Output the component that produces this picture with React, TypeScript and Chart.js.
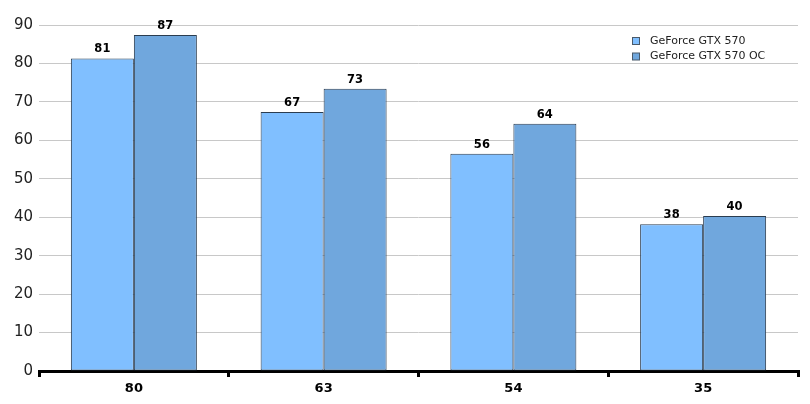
import React, { useEffect, useRef } from "react";
import { Chart, registerables } from "chart.js";

Chart.register(...registerables);

const categories = ["80", "63", "54", "35"];
const seriesNames = ["GeForce GTX 570", "GeForce GTX 570 OC"];
const gtx570 = [81.3, 67.4, 56.5, 38.2];
const gtx570oc = [87.4, 73.4, 64.3, 40.3];
const labels570 = ["81", "67", "56", "38"];
const labels570oc = ["87", "73", "64", "40"];
const yTicks = [0, 10, 20, 30, 40, 50, 60, 70, 80, 90];

const colors = ["#80BFFF", "#70A7DD"];

export default function App() {
  const ref = useRef<HTMLCanvasElement | null>(null);
  useEffect(() => {
    if (!ref.current) return;
    const valueLabels = [labels570, labels570oc];
    const labelPlugin = {
      id: "valueLabels",
      afterDatasetsDraw(chart: any) {
        const ctx = chart.ctx;
        ctx.save();
        ctx.font = "bold 11.5px 'DejaVu Sans'";
        ctx.fillStyle = "#000";
        ctx.textAlign = "center";
        ctx.textBaseline = "bottom";
        chart.data.datasets.forEach((ds: any, di: number) => {
          const meta = chart.getDatasetMeta(di);
          meta.data.forEach((el: any, i: number) => {
            ctx.fillText(valueLabels[di][i], el.x, el.y - 3.5);
          });
        });
        ctx.restore();
      },
    };
    const legendPlugin = {
      id: "customLegend",
      afterDraw(chart: any) {
        const ctx = chart.ctx;
        ctx.save();
        ctx.font = "11px 'DejaVu Sans'";
        ctx.textBaseline = "middle";
        ctx.textAlign = "left";
        seriesNames.forEach((name, i) => {
          const y = 41 + i * 15.5;
          ctx.fillStyle = colors[i];
          ctx.fillRect(632.5, y - 3.5, 7, 7);
          ctx.strokeStyle = "#4A5A6A";
          ctx.lineWidth = 1;
          ctx.strokeRect(632.5, y - 3.5, 7, 7);
          ctx.fillStyle = "#222";
          ctx.fillText(name, 650, y);
        });
        ctx.restore();
      },
    };
    const chart = new Chart(ref.current, {
      type: "bar",
      data: {
        labels: categories,
        datasets: [
          {
            label: seriesNames[0],
            data: gtx570,
            backgroundColor: colors[0],
            borderColor: "#2B3D50",
            borderWidth: 1,
            borderSkipped: false,
            categoryPercentage: 0.664,
            barPercentage: 1,
          },
          {
            label: seriesNames[1],
            data: gtx570oc,
            backgroundColor: colors[1],
            borderColor: "#2B3D50",
            borderWidth: 1,
            borderSkipped: false,
            categoryPercentage: 0.664,
            barPercentage: 1,
          },
        ],
      },
      options: {
        responsive: false,
        animation: false,
        layout: { padding: { top: 25, right: 12, left: 0, bottom: 0 } },
        plugins: {
          legend: { display: false },
          tooltip: { enabled: false },
        },
        scales: {
          x: {
            offset: true,
            grid: {
              offset: true,
              drawOnChartArea: false,
              drawTicks: true,
              tickLength: 6,
              lineWidth: 3,
              color: "#000",
            },
            border: { display: true, width: 3, color: "#000" },
            ticks: {
              font: { family: "'DejaVu Sans'", size: 13, weight: "bold" },
              color: "#000",
              padding: 4,
            },
            afterFit(scale: any) {
              scale.height = 33;
            },
          },
          y: {
            min: 0,
            max: 90,
            afterBuildTicks(scale: any) {
              scale.ticks = yTicks.map((v) => ({ value: v }));
            },
            grid: {
              color: "#C8C8C8",
              lineWidth: 1,
              drawTicks: false,
            },
            border: { display: false },
            ticks: {
              font: { family: "'DejaVu Sans'", size: 15 },
              color: "#222",
              padding: 6,
            },
            afterFit(scale: any) {
              scale.width = 39;
            },
          },
        },
      },
      plugins: [labelPlugin, legendPlugin],
    });
    return () => chart.destroy();
  }, []);
  return (
    <div style={{ position: "fixed", left: 0, top: 0, width: 810, height: 404, background: "#fff" }}>
      <canvas ref={ref} width={810} height={404} />
    </div>
  );
}
